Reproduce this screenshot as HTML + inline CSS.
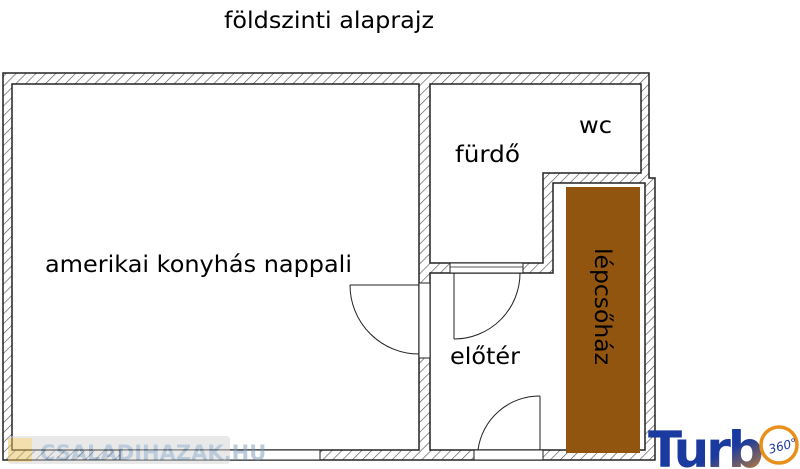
<!DOCTYPE html>
<html><head><meta charset="utf-8"><style>
html,body{margin:0;padding:0;background:#fff;}
svg{display:block;}
text{font-family:"DejaVu Sans","Liberation Sans",sans-serif;}
</style></head><body>
<svg width="800" height="469" viewBox="0 0 800 469" xmlns="http://www.w3.org/2000/svg">
<defs>
<pattern id="h" patternUnits="userSpaceOnUse" width="7" height="7" patternTransform="rotate(45)">
<rect width="7" height="7" fill="#fff"/>
<line x1="0" y1="0" x2="0" y2="7" stroke="#555" stroke-width="1.3"/>
</pattern>
<linearGradient id="tg" x1="0" y1="0" x2="1" y2="1">
<stop offset="0" stop-color="#1a3aa0"/><stop offset="0.6" stop-color="#1a3aa0"/><stop offset="1" stop-color="#e08a20"/>
</linearGradient>
</defs>
<text x="224" y="28" font-size="23" textLength="210" lengthAdjust="spacingAndGlyphs" fill="#000">földszinti alaprajz</text>

<polygon points="3,73 649,73 649,178 655,178 655,460 3,460" fill="url(#h)" stroke="#222" stroke-width="1.5"/>
<rect x="12" y="84" width="407" height="366" fill="#fff" stroke="#222" stroke-width="1.5"/>
<polygon points="430,84 641,84 641,173 543,173 543,263 430,263" fill="#fff" stroke="#222" stroke-width="1.5"/>
<polygon points="430,273 553,273 553,183 645,183 645,450 430,450" fill="#fff" stroke="#222" stroke-width="1.5"/>

<rect x="450" y="263" width="73" height="10" fill="#fff" stroke="#222" stroke-width="1"/>
<line x1="450" y1="267" x2="523" y2="267" stroke="#222" stroke-width="0.8"/>
<rect x="419" y="283" width="11" height="75" fill="#fff" stroke="#222" stroke-width="1"/>
<rect x="120" y="450" width="200" height="10" fill="#fff" stroke="#222" stroke-width="1"/>
<rect x="474" y="450" width="69" height="10" fill="#fff" stroke="#222" stroke-width="1"/>

<line x1="350" y1="285" x2="419" y2="285" stroke="#222" stroke-width="1"/>
<path d="M350,285 A69,69 0 0 0 419,354" fill="none" stroke="#222" stroke-width="1"/>
<line x1="454" y1="273" x2="454" y2="339" stroke="#222" stroke-width="1"/>
<path d="M454,339 A66,66 0 0 0 520,273" fill="none" stroke="#222" stroke-width="1"/>
<line x1="540" y1="396" x2="540" y2="450" stroke="#222" stroke-width="1"/>
<path d="M478,450 A62,62 0 0 1 540,396" fill="none" stroke="#222" stroke-width="1"/>

<rect x="566" y="187" width="74" height="266" fill="#925510"/>

<text x="45" y="272" font-size="23" textLength="307" lengthAdjust="spacingAndGlyphs" fill="#000">amerikai konyhás nappali</text>
<text x="455" y="162" font-size="23" textLength="65" lengthAdjust="spacingAndGlyphs" fill="#000">fürdő</text>
<text x="579" y="133" font-size="23" textLength="33" lengthAdjust="spacingAndGlyphs" fill="#000">wc</text>
<text x="450" y="364" font-size="23" textLength="70" lengthAdjust="spacingAndGlyphs" fill="#000">előtér</text>
<text x="0" y="0" font-size="23" fill="#000" transform="translate(595,248) rotate(90)" textLength="117" lengthAdjust="spacingAndGlyphs">lépcsőház</text>

<g opacity="0.5">
<rect x="8" y="436" width="222" height="28" rx="3" fill="#d4d4d4"/>
<rect x="8" y="438" width="24" height="24" fill="#e8c060"/>
<text x="40" y="460" font-size="21" font-weight="bold" fill="#7a98b8">CSALADIHAZAK.HU</text>
</g>
<text x="648" y="467" font-size="50" font-weight="bold" fill="url(#tg)" font-family="Liberation Sans, sans-serif" letter-spacing="-3">Turb</text>
<circle cx="779" cy="445" r="18" fill="none" stroke="#e8901a" stroke-width="3.5"/>
<text x="768" y="451" font-size="12" font-style="italic" fill="#1a3aa0" transform="rotate(-15 779 445)">360°</text>
</svg>
</body></html>
